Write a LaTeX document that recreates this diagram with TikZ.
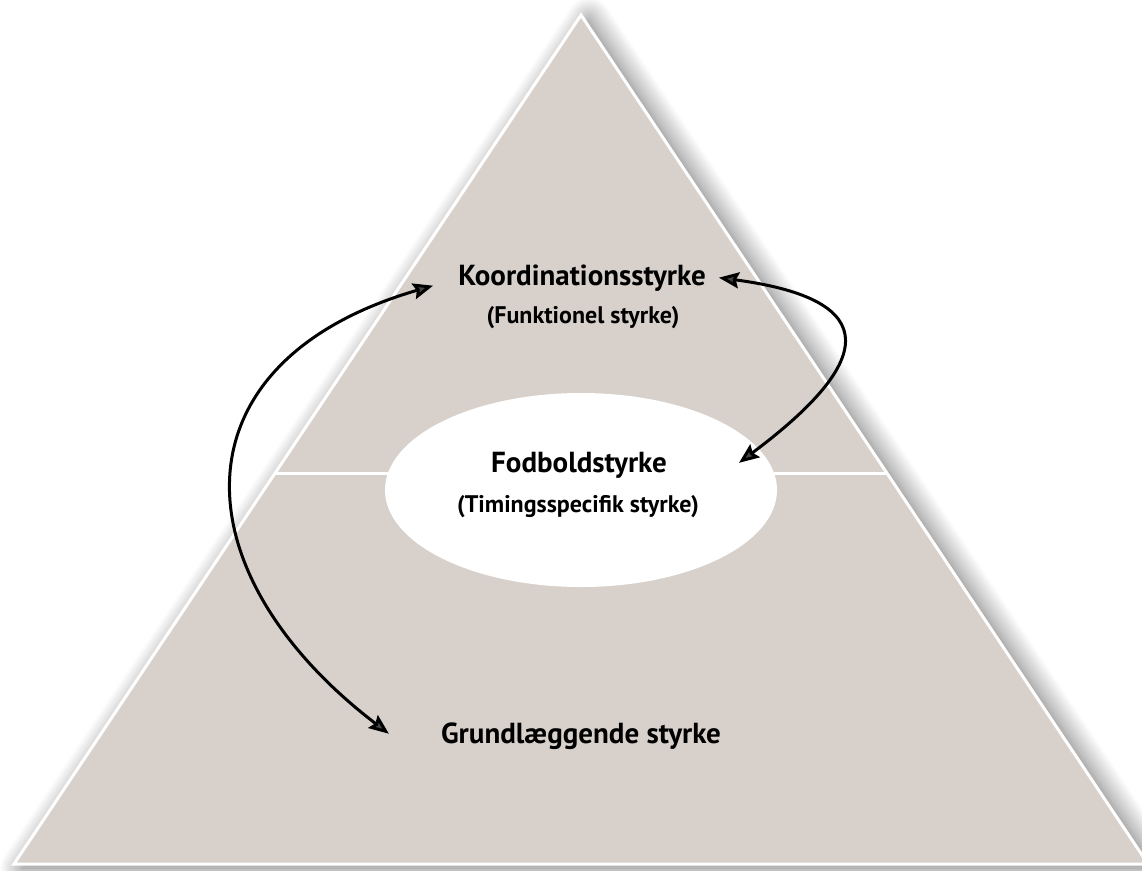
\documentclass[tikz,border=0pt]{standalone}
\usepackage{fontspec}
\setmainfont{PT Sans}
\usetikzlibrary{arrows.meta,calc,positioning,shadows.blur}
\definecolor{pyr}{RGB}{216,209,203}

\begin{document}
\begin{tikzpicture}[x=1pt,y=-1pt,>={Stealth[length=20pt,width=16pt,inset=3pt]},
  lbl/.style={font=\bfseries\fontsize{29}{32}\selectfont,inner sep=0pt},
  sub/.style={font=\bfseries\fontsize{24}{28}\selectfont,inner sep=0pt},
  link/.style={<->,line width=3pt}]
  \useasboundingbox (0,0) rectangle (1142,870);
  \coordinate (A) at (581,15);
  \coordinate (L) at (14,864);
  \coordinate (R) at (1148,864);
  % pyramid with soft shadow
  \path[fill=pyr,draw=white,line width=3pt,
    blur shadow={shadow xshift=8pt,shadow yshift=-4pt,shadow blur radius=22pt,shadow blur steps=20,shadow opacity=55}]
    (A) -- (L) -- (R) -- cycle;
  \draw[white,line width=3pt] ($(L)!0.4605!(A)$) -- ($(R)!0.4605!(A)$);
  \fill[white] (581,490) ellipse [x radius=196,y radius=97];

  \node[lbl,anchor=base] (koord) at (582,285) {Koordinationsstyrke};
  \node[sub,anchor=base] (funk) at (583,323) {(Funktionel styrke)};
  \node[lbl,anchor=base] (fodbold) at (579,472) {Fodboldstyrke};
  \node[sub,anchor=base] (timing) at (578,512) {(Timingsspecifik styrke)};
  \node[lbl,anchor=base] (grund) at (581,743) {Grundlæggende styrke};

  \draw[link] ($(koord.west)+(-25,8)$) .. controls +(-262,76) and +(-212,-162) .. ($(grund.west)+(-52,-2)$);
  \draw[link] ($(koord.east)+(13,0)$) .. controls +(150,20) and +(150,-112) .. ($(fodbold.east)+(72,-2)$);
\end{tikzpicture}
\end{document}
